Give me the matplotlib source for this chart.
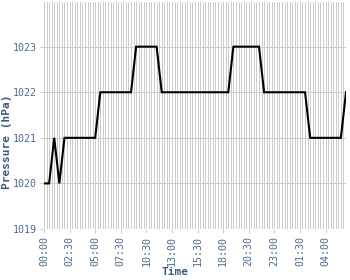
import matplotlib
matplotlib.use("Agg")
import matplotlib.pyplot as plt

# Time categories (15-minute readings, one 30-minute gap in the morning)
times = (
    ["00:00", "00:15", "00:30", "00:45", "01:00", "01:15", "01:30", "01:45",
     "02:00", "02:15", "02:30", "02:45", "03:00", "03:15", "03:30", "03:45",
     "04:00", "04:15", "04:30", "04:45", "05:00", "05:15", "05:30", "05:45",
     "06:00", "06:15", "06:30", "06:45", "07:00", "07:15", "07:30", "07:45",
     "08:00", "08:15", "09:00", "09:15", "09:30", "09:45", "10:00", "10:15",
     "10:30", "10:45", "11:00", "11:15", "11:30", "11:45", "12:00", "12:15",
     "12:30", "12:45", "13:00", "13:15", "13:30", "13:45", "14:00", "14:15",
     "14:30", "14:45", "15:00", "15:15", "15:30", "15:45", "16:00", "16:15",
     "16:30", "16:45", "17:00", "17:15", "17:30", "17:45", "18:00", "18:15",
     "18:30", "18:45", "19:00", "19:15", "19:30", "19:45", "20:00", "20:15",
     "20:30", "20:45", "21:00", "21:15", "21:30", "21:45", "22:00", "22:15",
     "22:30", "22:45", "23:00", "23:15", "23:30", "23:45", "00:00", "00:15",
     "00:30", "00:45", "01:00", "01:15", "01:30", "01:45", "02:00", "02:15",
     "02:30", "02:45", "03:00", "03:15", "03:30", "03:45", "04:00", "04:15",
     "04:30", "04:45", "05:00", "05:15", "05:30", "05:45", "06:00"]
)

pressure = [
    1020, 1020, 1020, 1020.5, 1021, 1020.5, 1020, 1020.5, 1021, 1021,
    1021, 1021, 1021, 1021, 1021, 1021, 1021, 1021, 1021, 1021,
    1021, 1021.5, 1022, 1022, 1022, 1022, 1022, 1022, 1022, 1022,
    1022, 1022, 1022, 1022, 1022, 1022.5, 1023, 1023, 1023, 1023,
    1023, 1023, 1023, 1023, 1023, 1022.5, 1022, 1022, 1022, 1022,
    1022, 1022, 1022, 1022, 1022, 1022, 1022, 1022, 1022, 1022,
    1022, 1022, 1022, 1022, 1022, 1022, 1022, 1022, 1022, 1022,
    1022, 1022, 1022, 1022.5, 1023, 1023, 1023, 1023, 1023, 1023,
    1023, 1023, 1023, 1023, 1023, 1022.5, 1022, 1022, 1022, 1022,
    1022, 1022, 1022, 1022, 1022, 1022, 1022, 1022, 1022, 1022,
    1022, 1022, 1022, 1021.5, 1021, 1021, 1021, 1021, 1021, 1021,
    1021, 1021, 1021, 1021, 1021, 1021, 1021, 1021.5, 1022,
]

y_ticks = [1019, 1020, 1021, 1022, 1023]
label_every = 10

text_color = "#4a6a90"
title_color = "#3d5a80"
grid_color = "#cccccc"
mono = "DejaVu Sans Mono"

W, H = 350, 280
fig = plt.figure(figsize=(W / 100, H / 100), dpi=100)
left, right, top, bottom = 44, 346, 2, 229
ax = fig.add_axes([left / W, 1 - bottom / H, (right - left) / W, (bottom - top) / H])

x = list(range(len(pressure)))
ax.plot(x, pressure, color="black", linewidth=1.5, zorder=3, solid_joinstyle="miter")

ax.set_xlim(0, len(pressure) - 1)
ax.set_ylim(1019, 1023.98)

ax.set_xticks(x, minor=True)
major = list(range(0, len(pressure), label_every))
ax.set_xticks(major)
ax.set_xticklabels([times[i] for i in major], rotation=90, fontfamily=mono,
                   fontsize=7.2, color=text_color, va="top", ha="center")
ax.set_yticks(y_ticks)
ax.set_yticklabels([str(v) for v in y_ticks], fontfamily=mono, fontsize=7.2,
                   color=text_color)

ax.grid(True, which="both", axis="x", color=grid_color, linewidth=0.72, zorder=0,
        antialiased=False)
ax.grid(True, which="major", axis="y", color=grid_color, linewidth=0.72, zorder=0,
        antialiased=False)
ax.tick_params(axis="x", which="major", length=3, width=0.72, color=grid_color, pad=2)
ax.tick_params(axis="x", which="minor", length=0)
ax.tick_params(axis="y", which="major", length=3, width=0.72, color=grid_color, pad=2)
for s in ax.spines.values():
    s.set_visible(False)
ax.set_axisbelow(True)

fig.text(174.5 / W, 1 - 272 / H, "Time", fontfamily=mono, fontweight="bold",
         fontsize=8, color=title_color, ha="center", va="center")
fig.text(7.5 / W, 1 - 142 / H, "Pressure (hPa)", fontfamily=mono, fontweight="bold",
         fontsize=8, color=title_color, ha="center", va="center", rotation=90)

fig.savefig("out.png", dpi=100)
